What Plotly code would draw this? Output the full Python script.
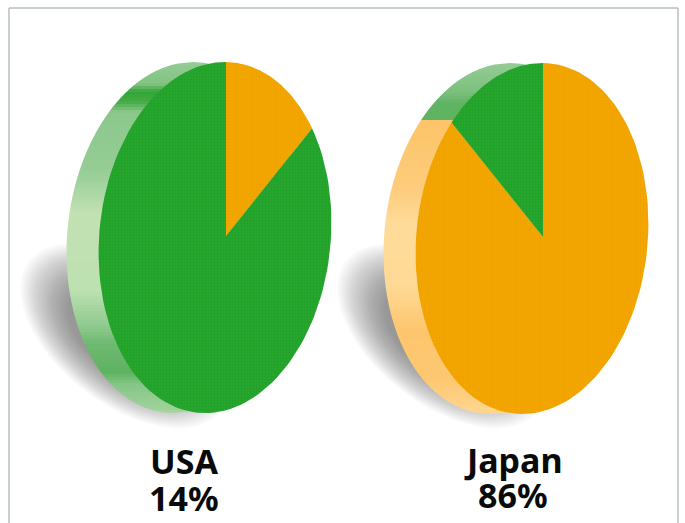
import numpy as np
import plotly.graph_objects as go

# ---- data ----
categories = ["USA", "Japan"]
label_text = ["14%", "86%"]
usa_shares = [14, 86]    # clockwise from 12 o'clock
japan_shares = [86, 14]  # clockwise from 12 o'clock
segment_names = ["orange", "green"]

# ---- styles / layout ----
W, H = 685, 523
FACE = {"orange": ("#F4A600", "#E89A00"), "green": ("#25A52C", "#1F9A2A")}
A, B, S = 116.0, 175.5, 10.0
DEPTH = 32.0
GEOM = {"USA": dict(cx=215.0, cy=237.5, ax=226.0, ay=236.0),
        "Japan": dict(cx=532.0, cy=238.5, ax=543.0, ay=237.0)}
# rim colour stops: (y, rgb)
RIM_STOPS = {
    "USA": [(62, (150, 205, 150)), (84, (130, 195, 130)), (92, (50, 165, 55)),
            (102, (70, 172, 72)), (112, (140, 200, 140)), (170, (150, 205, 150)),
            (215, (195, 226, 180)), (290, (190, 225, 178)), (325, (145, 203, 145)),
            (345, (110, 185, 112)), (372, (95, 178, 98)), (385, (135, 198, 135)),
            (413, (165, 212, 160))],
    "Japan": [(62, (150, 205, 150)), (92, (125, 192, 125)), (104, (95, 180, 98)),
              (119.9, (95, 180, 98)), (120, (253, 196, 105)), (190, (253, 205, 125)),
              (225, (255, 220, 155)), (285, (255, 218, 150)), (330, (253, 198, 110)),
              (380, (253, 200, 115)), (414, (255, 215, 145))],
}

fig = go.Figure()


def poly(xs, ys, color, pattern=None):
    tr = dict(x=xs, y=ys, mode="lines", fill="toself", line=dict(width=0),
              fillcolor=color, hoverinfo="skip", showlegend=False)
    if pattern:
        tr["fillpattern"] = dict(shape=".", bgcolor=color, fgcolor=pattern,
                                 size=3, solidity=0.35)
    fig.add_trace(go.Scatter(**tr))


def shadow(cx):
    # soft shadow stacked from translucent rotated ellipses
    sx, sy = cx - 90, 336
    phi = np.radians(38)
    t = np.linspace(0, 2 * np.pi, 90)
    for k in np.linspace(1.0, 0.55, 26):
        a, b = 122 * k, 68 * k
        x = sx + a * np.cos(t) * np.cos(phi) - b * np.sin(t) * np.sin(phi)
        y = sy + a * np.cos(t) * np.sin(phi) + b * np.sin(t) * np.cos(phi)
        poly(x, y, "rgba(90,90,90,0.026)")


def rim_slice(cx, cy, y0, y1, color):
    ys = np.linspace(y0, y1, 6)
    v = np.clip((cy - ys) / B, -1, 1)
    half = A * np.sqrt(1 - v ** 2)
    mid = cx + S * v
    poly(np.r_[mid - half, (mid + half)[::-1]], np.r_[ys, ys[::-1]], color)


def ray_hit(g, theta):
    # where a pie radius at angle theta meets the tilted face ellipse
    dx, dy = A * np.sin(theta), -B * np.cos(theta)
    v0, dv = (g["cy"] - g["ay"]) / B, -dy / B
    u0 = (g["ax"] - g["cx"] - S * v0) / A
    du = (dx - S * dv) / A
    qa, qb, qc = du ** 2 + dv ** 2, 2 * (u0 * du + v0 * dv), u0 ** 2 + v0 ** 2 - 1
    r = (-qb + np.sqrt(qb ** 2 - 4 * qa * qc)) / (2 * qa)
    return g["ax"] + r * dx, g["ay"] + r * dy


def draw_pie(name, shares):
    g = GEOM[name]
    back = g["cx"] - DEPTH
    shadow(g["cx"])

    stops = RIM_STOPS[name]
    sy = [s[0] for s in stops]
    top, bot = g["cy"] - B, g["cy"] + B
    edges = np.arange(top, bot + 3, 3.0)
    for y0, y1 in zip(edges[:-1], edges[1:]):
        m = (y0 + y1) / 2
        rgb = [int(np.interp(m, sy, [s[1][i] for s in stops])) for i in range(3)]
        rim_slice(back, g["cy"], y0, min(y1 + 0.6, bot), f"rgb({rgb[0]},{rgb[1]},{rgb[2]})")

    total = sum(shares)
    start = 0.0
    for seg, share in zip(segment_names, shares):
        th = np.linspace(start, start + share / total * 2 * np.pi, 120)
        pts = [ray_hit(g, a) for a in th]
        xs = [g["ax"]] + [p[0] for p in pts] + [g["ax"]]
        ys = [g["ay"]] + [p[1] for p in pts] + [g["ay"]]
        poly(xs, ys, FACE[seg][0], FACE[seg][1])
        start += share / total * 2 * np.pi


draw_pie("USA", usa_shares)
draw_pie("Japan", japan_shares)

# frame
line = dict(color="#B4C2B4", width=1.5)
shapes = [
    dict(type="line", x0=9, x1=678, y0=8, y1=8, line=line, layer="above"),
    dict(type="line", x0=9, x1=9, y0=8, y1=H, line=line, layer="above"),
    dict(type="line", x0=678, x1=678, y0=8, y1=H, line=line, layer="above"),
]

FONT = dict(family="Noto Sans", size=34, color="#0A0A0A")
annotations = []
for name, tx, ty1, ty2, pct in zip(categories, [184, 513], [461, 460], [498, 495], label_text):
    annotations.append(dict(x=tx, y=ty1, text=f"<b>{name}</b>", showarrow=False,
                            font=FONT, xanchor="center", yanchor="middle"))
    annotations.append(dict(x=tx, y=ty2, text=f"<b>{pct}</b>", showarrow=False,
                            font=FONT, xanchor="center", yanchor="middle"))

axis = dict(visible=False, fixedrange=True)
fig.update_layout(
    width=W, height=H, margin=dict(l=0, r=0, t=0, b=0),
    paper_bgcolor="white", plot_bgcolor="white", showlegend=False,
    xaxis=dict(range=[0, W], **axis), yaxis=dict(range=[H, 0], **axis),
    shapes=shapes, annotations=annotations,
)
fig.write_html("out.html", config={"displayModeBar": False},
               post_script="document.body.style.margin='0';document.documentElement.style.overflow='hidden';")
